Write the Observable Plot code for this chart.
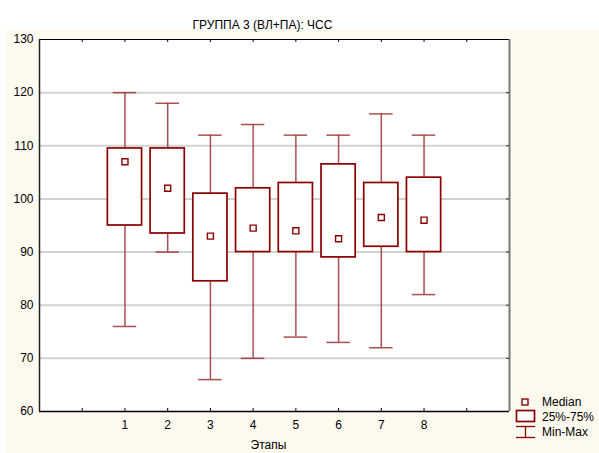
<!DOCTYPE html>
<html>
<head>
<meta charset="utf-8">
<script src="https://cdn.jsdelivr.net/npm/d3@7"></script>
<script src="https://cdn.jsdelivr.net/npm/@observablehq/plot@0.6"></script>
<style>
  html, body { margin: 0; padding: 0; background: #ffffff; }
  #wrap { position: relative; width: 599px; height: 453px; overflow: hidden; background: #ffffff; font-family: "Liberation Sans", Arial, sans-serif; }
  #cream { position: absolute; left: 5px; top: 30px; right: 0; bottom: 0; background: #fffaf0; }
  #chart { position: absolute; left: 0; top: 0; }
  #legend { position: absolute; left: 0; top: 0; }
</style>
</head>
<body>
<div id="wrap">
  <div id="cream"></div>
  <div id="chart"></div>
  <svg id="legend" width="599" height="453"></svg>
</div>
<script>
// ---- data ----
const title = "ГРУППА 3 (ВЛ+ПА): ЧСС";
const xLabel = "Этапы";
const stages = [1, 2, 3, 4, 5, 6, 7, 8];
const minVals = [76, 90, 66, 70, 74, 73, 72, 82];
const q1Vals = [95, 93.5, 84.5, 90, 90, 89, 91, 90];
const medianVals = [107, 102, 93, 94.5, 94, 92.5, 96.5, 96];
const q3Vals = [109.5, 109.5, 101, 102, 103, 106.5, 103, 104];
const maxVals = [120, 118, 112, 114, 112, 112, 116, 112];
const yTickLabels = [60, 70, 80, 90, 100, 110, 120, 130];
const gridVals = [70, 80, 90, 100, 110, 120];
const xTickPos = [0, 1, 2, 3, 4, 5, 6, 7, 8, 9];
const legendLabels = ["Median", "25%-75%", "Min-Max"];

const rows = stages.map((s, i) => ({
  stage: s, min: minVals[i], q1: q1Vals[i], median: medianVals[i], q3: q3Vals[i], max: maxVals[i]
}));

const boxColor = "#8b0000";
const whiskColor = "#9e3030";
const boxHalf = 0.4;
const capHalf = 0.275;
const xDomain = [-1, 10];
const yDomain = [60, 130];

const chart = Plot.plot({
  width: 599,
  height: 453,
  marginLeft: 39,
  marginRight: 90,
  marginTop: 39,
  marginBottom: 42,
  x: { domain: xDomain },
  y: { domain: yDomain },
  style: { fontSize: "12px", fontFamily: "'Liberation Sans', Arial, sans-serif", background: "transparent", color: "#000", overflow: "visible" },
  marks: [
    Plot.frame({ fill: "white", stroke: "none" }),
    Plot.gridY(gridVals, { stroke: "#d2d2d2", strokeOpacity: 1, strokeWidth: 2 }),
    // whiskers
    Plot.ruleX(rows, { x: "stage", y1: "q3", y2: "max", stroke: whiskColor, strokeWidth: 1.5, strokeOpacity: 0.85 }),
    Plot.ruleX(rows, { x: "stage", y1: "min", y2: "q1", stroke: whiskColor, strokeWidth: 1.5, strokeOpacity: 0.85 }),
    Plot.ruleY(rows, { y: "max", x1: d => d.stage - capHalf, x2: d => d.stage + capHalf, stroke: whiskColor, strokeWidth: 1.5, strokeOpacity: 0.85 }),
    Plot.ruleY(rows, { y: "min", x1: d => d.stage - capHalf, x2: d => d.stage + capHalf, stroke: whiskColor, strokeWidth: 1.5, strokeOpacity: 0.85 }),
    // boxes
    Plot.rect(rows, { x1: d => d.stage - boxHalf, x2: d => d.stage + boxHalf, y1: "q1", y2: "q3", fill: "white", stroke: boxColor, strokeWidth: 1.7 }),
    // medians
    Plot.dot(rows, { x: "stage", y: "median", symbol: "square", r: 3.4, stroke: boxColor, fill: "white", strokeWidth: 1.4 }),
    // frame edges
    Plot.ruleY([yDomain[1]], { stroke: "#000", strokeWidth: 1 }),
    Plot.ruleY([yDomain[0]], { stroke: "#000", strokeWidth: 1.5 }),
    Plot.ruleX([xDomain[0]], { stroke: "#222", strokeWidth: 1.5 }),
    Plot.ruleX([xDomain[1]], { stroke: "#7a7a7a", strokeWidth: 2 }),
    // inward ticks
    Plot.ruleX(xTickPos, { y1: yDomain[1], y2: yDomain[1] - 0.56, stroke: "#000" }),
    Plot.ruleX(xTickPos, { y1: yDomain[0], y2: yDomain[0] + 0.56, stroke: "#000" }),
    Plot.ruleY(gridVals, { x1: xDomain[1], x2: xDomain[1] - 0.07, stroke: "#333" }),
    // axes labels
    Plot.axisY(yTickLabels, { tickSize: 0, tickPadding: 6, label: null }),
    Plot.axisX(stages, { tickSize: 0, tickPadding: 9, label: null }),
    Plot.text([xLabel], { frameAnchor: "bottom", dy: 37, dx: -6, fontSize: 12, fill: "#000" }),
    Plot.text([title], { frameAnchor: "top", dy: -19, dx: -12, fontSize: 12, fill: "#000" })
  ]
});
document.getElementById("chart").appendChild(chart);

// ---- legend ----
const lg = d3.select("#legend");
const fontFam = "'Liberation Sans', Arial, sans-serif";
// Median
lg.append("rect").attr("x", 522).attr("y", 399).attr("width", 6).attr("height", 6)
  .attr("fill", "white").attr("stroke", boxColor).attr("stroke-width", 1.4);
// 25%-75%
lg.append("rect").attr("x", 516.5).attr("y", 410.5).attr("width", 18).attr("height", 11)
  .attr("fill", "white").attr("stroke", boxColor).attr("stroke-width", 1.7);
// Min-Max
lg.append("line").attr("x1", 516).attr("x2", 535).attr("y1", 426.5).attr("y2", 426.5).attr("stroke", boxColor).attr("stroke-width", 1.3);
lg.append("line").attr("x1", 525.5).attr("x2", 525.5).attr("y1", 426.5).attr("y2", 437.5).attr("stroke", boxColor).attr("stroke-width", 1.3);
lg.append("line").attr("x1", 516).attr("x2", 535).attr("y1", 437.5).attr("y2", 437.5).attr("stroke", boxColor).attr("stroke-width", 1.3);
const ly = [402, 417, 431.5];
legendLabels.forEach((t, i) => {
  lg.append("text").attr("x", 542).attr("y", ly[i]).attr("dominant-baseline", "central")
    .attr("font-family", fontFam).attr("font-size", 12).attr("fill", "#000").text(t);
});
</script>
</body>
</html>
